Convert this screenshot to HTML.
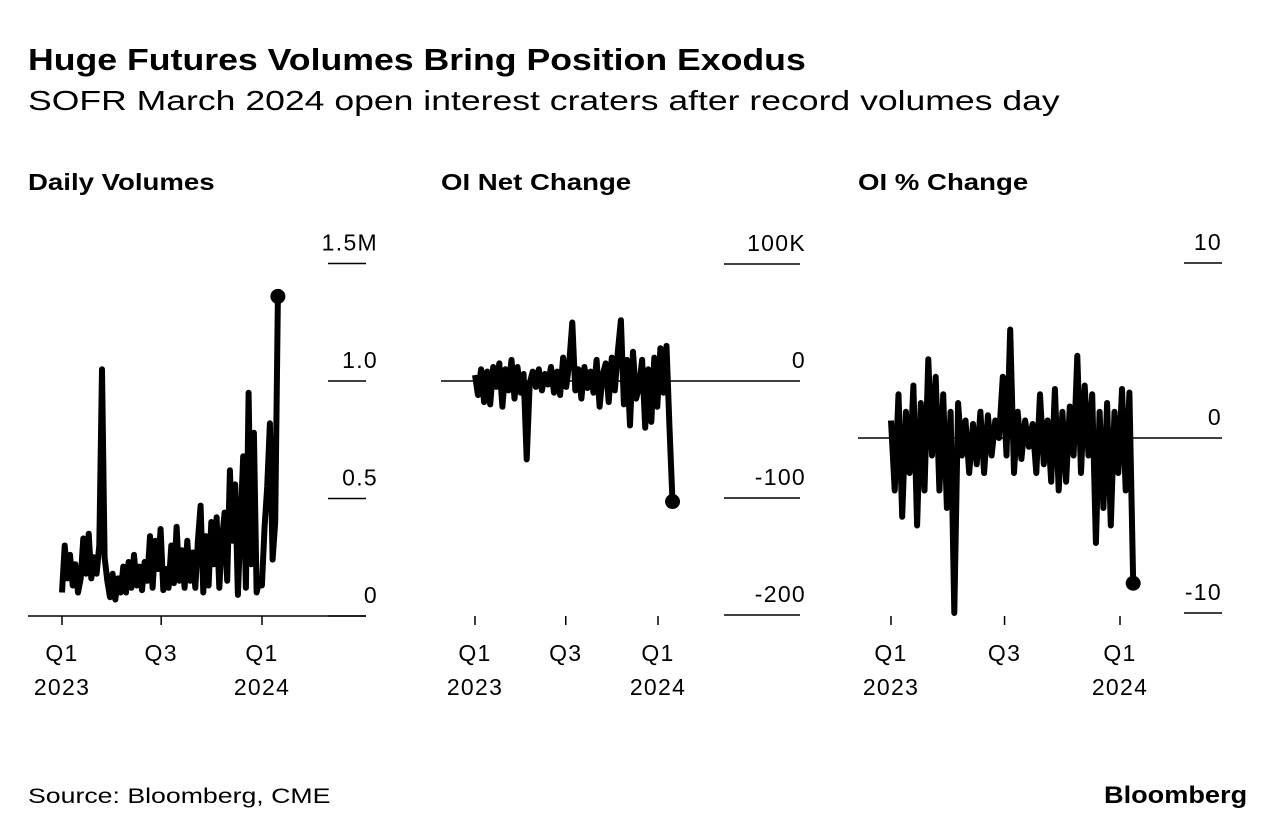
<!DOCTYPE html>
<html><head><meta charset="utf-8"><style>
body{margin:0;background:#fff;font-family:"Liberation Sans",sans-serif;color:#000}
#wrap{position:relative;width:1283px;height:838px;overflow:hidden}
.t{position:absolute;white-space:nowrap;transform-origin:0 0}
</style></head><body>
<div id="wrap">
<div class="t" style="left:28px;top:42px;font-size:31px;font-weight:bold;transform:scaleX(1.15)">Huge Futures Volumes Bring Position Exodus</div>
<div class="t" style="left:28px;top:85px;font-size:28px;transform:scaleX(1.27)">SOFR March 2024 open interest craters after record volumes day</div>
<div class="t" style="left:28px;top:169px;font-size:23px;font-weight:bold;transform:scaleX(1.2)">Daily Volumes</div>
<div class="t" style="left:441px;top:169px;font-size:23px;font-weight:bold;transform:scaleX(1.2)">OI Net Change</div>
<div class="t" style="left:858px;top:169px;font-size:23px;font-weight:bold;transform:scaleX(1.2)">OI % Change</div>
<div class="t" style="left:28px;top:785px;font-size:21px;transform:scaleX(1.27)">Source: Bloomberg, CME</div>
<div class="t" style="left:1104px;top:782px;font-size:24px;font-weight:bold;transform:scaleX(1.13)">Bloomberg</div>
<svg id="svg" width="1283" height="838" style="position:absolute;left:0;top:0"></svg>
</div>
<script>
const xTickLabels=["Q1","Q3","Q1"];
const xTickYears=["2023","","2024"];
const xTickDays=[0,181,365];
const volTicks=[0,0.5,1.0,1.5];
const volTickLabels=["0","0.5","1.0","1.5M"];
const volValues=[0.1,0.3,0.16,0.26,0.13,0.22,0.1,0.16,0.33,0.18,0.35,0.16,0.25,0.18,0.3,1.05,0.25,0.15,0.08,0.18,0.07,0.16,0.1,0.21,0.1,0.23,0.12,0.26,0.13,0.21,0.11,0.23,0.15,0.34,0.12,0.32,0.2,0.37,0.11,0.2,0.12,0.3,0.14,0.38,0.15,0.28,0.12,0.32,0.15,0.27,0.12,0.32,0.47,0.1,0.34,0.13,0.4,0.22,0.42,0.12,0.32,0.44,0.15,0.62,0.32,0.56,0.09,0.4,0.68,0.12,0.95,0.22,0.78,0.1,0.15,0.13,0.38,0.55,0.82,0.24,0.4,1.36];
const oiTicks=[-200,-100,0,100];
const oiTickLabels=["-200","-100","0","100K"];
const oiValues=[5,-12,10,-18,8,-20,12,-5,15,-22,10,-8,18,-15,12,-10,6,-67,-2,8,-5,10,-8,6,-3,12,-10,8,-12,20,-5,15,50,-8,10,-15,12,-6,8,-10,18,-22,5,15,-18,20,-8,25,52,-20,18,-38,25,-15,-5,18,-40,10,-35,20,-22,28,-10,30,-40,-103];
const pctTicks=[-10,0,10];
const pctTickLabels=["-10","0","10"];
const pctValues=[1,-3,2.5,-4.5,1.5,-2,3,-5,2,-3,4.5,-1,3.5,-3,2.5,-4,1.5,-10,2,-1,1,-2,0.8,-1.5,1.5,-2,1.3,-1,1,0,3.5,-1,6.2,-2,1.5,-1.2,1,-0.5,0.8,-2,2.5,-1.5,1,-2.5,2.8,-3,1.5,-2.5,1.8,-1,4.7,-2,3,-1,2.5,-6,1.5,-4,2,-5,1.5,-2,2.8,-3,2.6,-8.3];
const NS='http://www.w3.org/2000/svg';
const svg=document.getElementById('svg');
const FONT='font-family:"Liberation Sans",sans-serif;font-size:23px;letter-spacing:1.3px';
function mk(tag,attrs){const e=document.createElementNS(NS,tag);for(const k in attrs)e.setAttribute(k,attrs[k]);svg.appendChild(e);return e;}
function panel(cfg){
  const xs=d=>cfg.x0+(cfg.xq-cfg.x0)*d/365;
  const ys=v=>cfg.yZero+(cfg.yRef-cfg.yZero)*v/cfg.vRef;
  cfg.ticks.forEach((t,i)=>{
    const y=ys(t);
    const full=(t===0&&cfg.zeroFull);
    const l=mk('line',{x1:full?cfg.left:cfg.gx1,x2:cfg.gx2,y1:y,y2:y,stroke:'#000','stroke-width':1.5});
    
    
    const tx=mk('text',{x:cfg.lx,y:y-13,'text-anchor':'end',style:FONT});
    tx.textContent=cfg.tickLabels[i];
    
    
  });
  if(cfg.baseline){
    const b=mk('line',{x1:cfg.left,x2:cfg.gx2,y1:ys(cfg.ticks[0]),y2:ys(cfg.ticks[0]),stroke:'#000','stroke-width':1.5});
    
    
  }
  xTickDays.forEach((d,i)=>{
    const x=xs(d);
    const tk=mk('line',{x1:x,x2:x,y1:cfg.tickY,y2:cfg.tickY+9,stroke:'#000','stroke-width':1.5});
    
    
    const t1=mk('text',{x:x,y:cfg.tickY+45,'text-anchor':'middle',style:FONT});
    t1.textContent=xTickLabels[i];
    
    
    if(xTickYears[i]){
      const t2=mk('text',{x:x,y:cfg.tickY+79,'text-anchor':'middle',style:FONT});
      t2.textContent=xTickYears[i];
      
      
    }
  });
  const n=cfg.values.length;
  const pts=cfg.values.map((v,i)=>[xs(cfg.endDay*i/(n-1)),ys(v)]);
  const p=mk('polyline',{points:pts.map(q=>q[0].toFixed(1)+','+q[1].toFixed(1)).join(' '),fill:'none',stroke:'#000','stroke-width':6,'stroke-linejoin':'round'});
  
  
  const last=pts[n-1];
  const c=mk('circle',{cx:last[0],cy:last[1],r:7.5,fill:'#000'});
  
  
}
panel({name:'volumes',values:volValues,ticks:volTicks,tickLabels:volTickLabels,x0:62,xq:262,endDay:394,yZero:616,yRef:381,vRef:1.0,left:28,gx1:328,gx2:366,lx:378,zeroFull:false,baseline:true,tickY:616});
panel({name:'oi-net',values:oiValues,ticks:oiTicks,tickLabels:oiTickLabels,x0:475,xq:658,endDay:394,yZero:381,yRef:498,vRef:-100,left:441,gx1:724,gx2:800,lx:806,zeroFull:true,baseline:false,tickY:616});
panel({name:'oi-pct',values:pctValues,ticks:pctTicks,tickLabels:pctTickLabels,x0:891,xq:1120,endDay:386,yZero:438,yRef:263,vRef:10,left:858,gx1:1184,gx2:1222,lx:1222,zeroFull:true,baseline:false,tickY:616});
</script>
</body></html>
